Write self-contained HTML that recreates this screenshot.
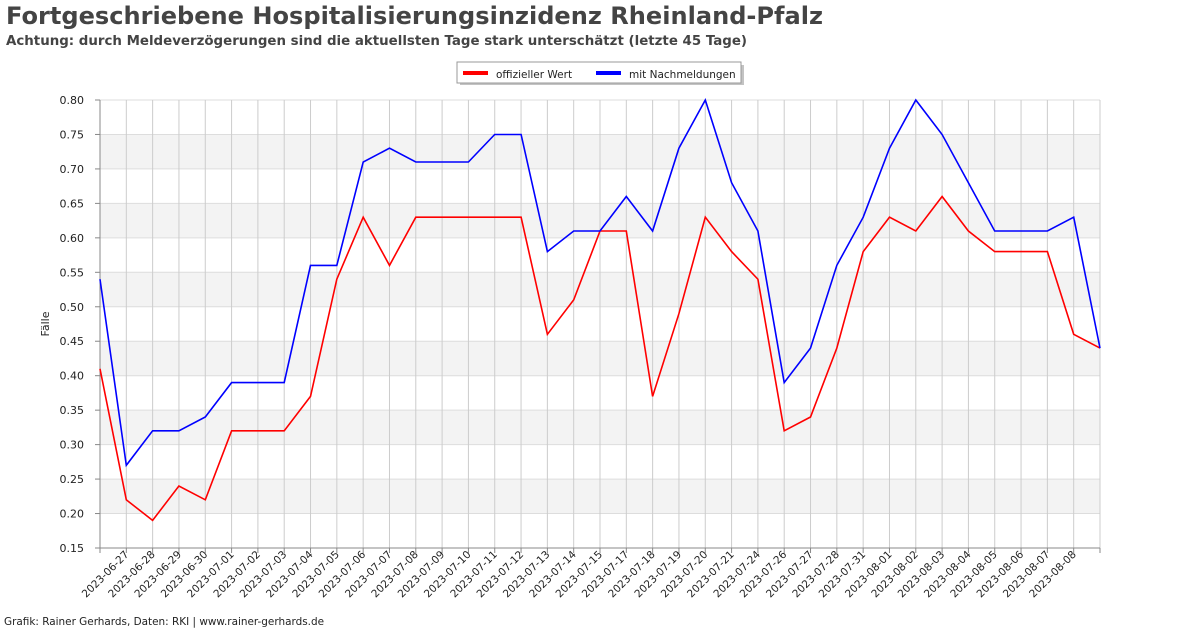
<!DOCTYPE html>
<html><head><meta charset="utf-8"><style>
body{margin:0;background:#fff;width:1200px;height:628px;overflow:hidden;font-family:"DejaVu Sans","Liberation Sans",sans-serif}
</style></head><body>
<svg id="s" width="1200" height="628" xmlns="http://www.w3.org/2000/svg" font-family="DejaVu Sans, Liberation Sans, sans-serif">
<text x="6" y="24" font-size="24" font-weight="bold" fill="#444" textLength="817" lengthAdjust="spacingAndGlyphs">Fortgeschriebene Hospitalisierungsinzidenz Rheinland-Pfalz</text>
<text x="6" y="45" font-size="13" font-weight="bold" fill="#444" textLength="741" lengthAdjust="spacingAndGlyphs">Achtung: durch Meldeverzögerungen sind die aktuellsten Tage stark unterschätzt (letzte 45 Tage)</text>
<rect x="460" y="65" width="284" height="20" fill="#888" opacity="0.5"/>
<rect x="457" y="62" width="284" height="21" fill="#fff" stroke="#999"/>
<line x1="463" y1="73" x2="488" y2="73" stroke="#f00" stroke-width="4"/>
<text x="496" y="78" font-size="10.5" fill="#222">offizieller Wert</text>
<line x1="596" y1="73" x2="621" y2="73" stroke="#00f" stroke-width="4"/>
<text x="629" y="78" font-size="10.5" fill="#222">mit Nachmeldungen</text>
<text x="4" y="625" font-size="10.5" fill="#222" textLength="320" lengthAdjust="spacingAndGlyphs">Grafik: Rainer Gerhards, Daten: RKI | www.rainer-gerhards.de</text>
<text transform="translate(49,324) rotate(-90)" text-anchor="middle" font-size="11" fill="#222">Fälle</text>
<g id="g"></g>
</svg>
<script>
const g=document.getElementById('g');let h='';
const X0=100,X1=1100,N=39,dx=(X1-X0)/(N-1);
const Y=v=>100+(0.80-v)/0.05*(448/13);
for(let i=0;i<13;i++){const y=Y(0.80-0.05*i);if(i%2==1)h+=`<rect x="100" y="${y}" width="1000" height="${448/13}" fill="#f3f3f3"/>`;}
for(let i=0;i<=13;i++){const v=0.80-0.05*i,y=Y(v);h+=`<line x1="100" x2="1100" y1="${y}" y2="${y}" stroke="#ddd"/>`;h+=`<line x1="95" x2="100" y1="${y}" y2="${y}" stroke="#888"/>`;h+=`<text x="84" y="${y+4}" font-size="11" text-anchor="end" fill="#222">${v.toFixed(2)}</text>`;}
const labels=["2023-06-27","2023-06-28","2023-06-29","2023-06-30","2023-07-01","2023-07-02","2023-07-03","2023-07-04","2023-07-05","2023-07-06","2023-07-07","2023-07-08","2023-07-09","2023-07-10","2023-07-11","2023-07-12","2023-07-13","2023-07-14","2023-07-15","2023-07-17","2023-07-18","2023-07-19","2023-07-20","2023-07-21","2023-07-24","2023-07-26","2023-07-27","2023-07-28","2023-07-31","2023-08-01","2023-08-02","2023-08-03","2023-08-04","2023-08-05","2023-08-06","2023-08-07","2023-08-08"];
for(let i=0;i<N;i++){const x=X0+i*dx;h+=`<line x1="${x}" x2="${x}" y1="100" y2="548" stroke="#ccc"/>`;h+=`<line x1="${x}" x2="${x}" y1="548" y2="553" stroke="#888"/>`;
if(i>=1&&i<=37)h+=`<text transform="translate(${x+3},555) rotate(-45)" text-anchor="end" font-size="10.5" fill="#222">${labels[i-1]}</text>`;}
h+=`<line x1="100" x2="100" y1="100" y2="548" stroke="#888"/><line x1="100" x2="1100" y1="548" y2="548" stroke="#888"/>`;
const red=[.41,.22,.19,.24,.22,.32,.32,.32,.37,.54,.63,.56,.63,.63,.63,.63,.63,.46,.51,.61,.61,.37,.49,.63,.58,.54,.32,.34,.44,.58,.63,.61,.66,.61,.58,.58,.58,.46,.44];
const blue=[.54,.27,.32,.32,.34,.39,.39,.39,.56,.56,.71,.73,.71,.71,.71,.75,.75,.58,.61,.61,.66,.61,.73,.80,.68,.61,.39,.44,.56,.63,.73,.80,.75,.68,.61,.61,.61,.63,.44];
const pl=(d,c)=>`<polyline fill="none" stroke="${c}" stroke-width="1.6" points="${d.map((v,i)=>(X0+i*dx).toFixed(1)+','+Y(v).toFixed(1)).join(' ')}"/>`;
h+=pl(red,'#f00')+pl(blue,'#00f');
g.innerHTML=h;
</script>
</body></html>
